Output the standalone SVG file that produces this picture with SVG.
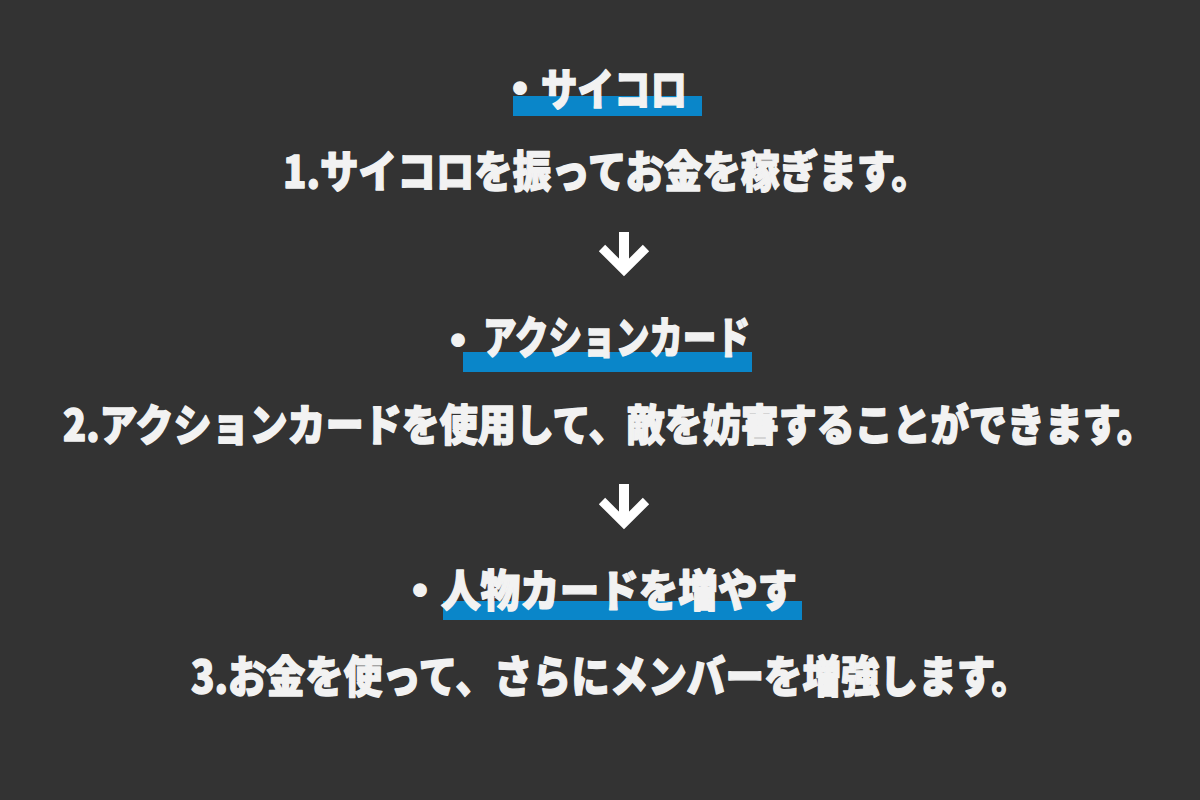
<svg xmlns="http://www.w3.org/2000/svg" width="1200" height="800" viewBox="0 0 1200 800">
  <style>
    .t { font-family: "Noto Sans CJK JP", "Noto Sans", sans-serif; font-weight: 900; fill: #f2f2f2; stroke: #f2f2f2; stroke-width: 1.4; stroke-linejoin: round; font-size: 44px; }
    .dot { text-anchor: middle; }
    .bar { fill: #0a86c9; }
    .arrow { fill: none; stroke: #ffffff; stroke-width: 9; stroke-linejoin: miter; stroke-linecap: butt; }
  </style>
  <rect x="0" y="0" width="1200" height="800" fill="#333333"/>

  <g id="title1">
    <rect class="bar" x="513" y="96" width="189" height="20"/>
    <text class="t dot" x="520" y="105">・</text>
    <text class="t" x="541" y="106" textLength="146" lengthAdjust="spacingAndGlyphs">サイコロ</text>
  </g>
  <g id="step1">
    <text class="t" x="283" y="188" textLength="647" lengthAdjust="spacingAndGlyphs">1.サイコロを振ってお金を稼ぎます。</text>
  </g>

  <g id="title2">
    <rect class="bar" x="463" y="352" width="289" height="20"/>
    <text class="t dot" x="458" y="357">・</text>
    <text class="t" x="483" y="354" textLength="267" lengthAdjust="spacingAndGlyphs">アクションカード</text>
  </g>
  <g id="step2">
    <text class="t" transform="translate(0,441) scale(1,1.12)" x="63" y="0" style="font-size:39px" textLength="1092" lengthAdjust="spacingAndGlyphs">2.アクションカードを使用して、敵を妨害することができます。</text>
  </g>

  <g id="title3">
    <rect class="bar" x="443" y="601" width="359" height="19"/>
    <text class="t dot" x="420" y="607">・</text>
    <text class="t" x="441" y="607" textLength="356" lengthAdjust="spacingAndGlyphs">人物カードを増やす</text>
  </g>
  <g id="step3">
    <text class="t" x="191" y="693" textLength="839" lengthAdjust="spacingAndGlyphs">3.お金を使って、さらにメンバーを増強します。</text>
  </g>

  <g id="connectors">
    <g id="arrow1">
      <rect x="619" y="232" width="10" height="38" fill="#ffffff"/>
      <polyline class="arrow" points="602,248 624,270 646,248"/>
    </g>
    <g id="arrow2">
      <rect x="619" y="484" width="10" height="40" fill="#ffffff"/>
      <polyline class="arrow" points="602,501 624,523 646,501"/>
    </g>
  </g>
</svg>
